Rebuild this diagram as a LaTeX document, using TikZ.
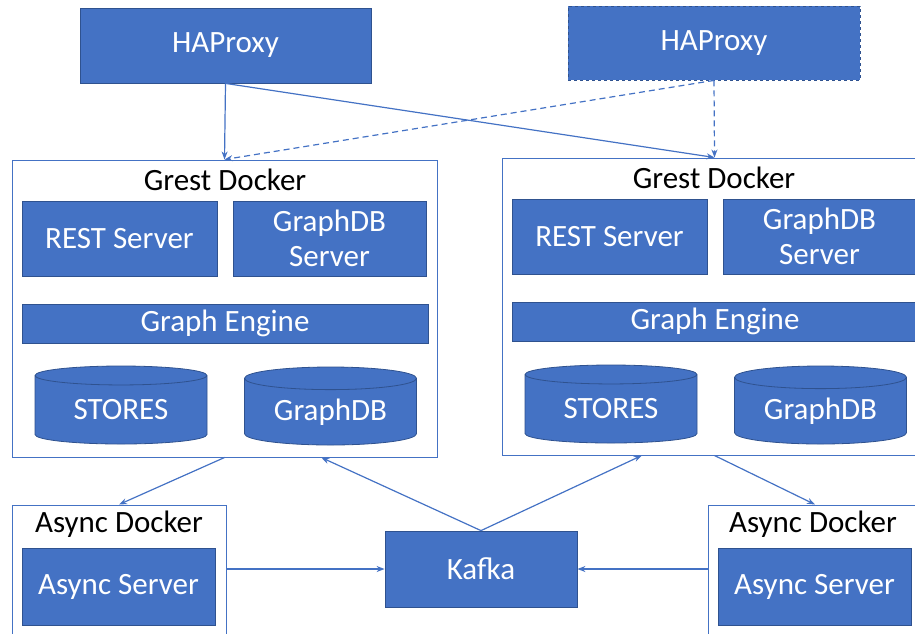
\documentclass[tikz,border=0pt]{standalone}
\usepackage{fontspec}
\setmainfont{Carlito}
\usepackage{tikz}
\usetikzlibrary{shapes, arrows.meta, positioning}

\definecolor{boxblue}{HTML}{4472C4}
\definecolor{boxedge}{HTML}{2F528F}
\newcommand{\diagfont}{\fontsize{31}{33}\selectfont}

\begin{document}
\begin{tikzpicture}[
        x=1pt, y=-1pt,
        blk/.style={rectangle, draw=boxedge, line width=0.8pt, fill=boxblue, text=white, font=\diagfont, inner sep=0pt, align=center},
        docker/.style={rectangle, draw=boxblue, line width=1pt, fill=white, inner sep=0pt},
        title/.style={font=\diagfont, text=black, inner sep=0pt},
        db/.style={cylinder, shape border rotate=90, aspect=0.2, anchor=shape center, draw=boxedge, line width=0.8pt, fill=boxblue, text=white, font=\diagfont, inner sep=0pt, minimum width=172pt, minimum height=78pt},
        link/.style={-{Stealth[length=8pt, width=6pt]}, draw=boxblue, line width=1.2pt},
        backup/.style={dash pattern=on 6pt off 4pt}
    ]
        \clip (0,0) rectangle (915,633);

        % Load balancers
        \node[blk, minimum width=291pt, minimum height=75pt] (hap1) at (225.5, 45.5) {HAProxy};
        \node[blk, dashed, minimum width=292pt, minimum height=74pt] (hap2) at (714, 43) {HAProxy};

        % Grest Docker (left)
        \node[docker, minimum width=425pt, minimum height=297pt] (grest1) at (224.5, 308.5) {};
        \node[title] (gtitle1) at (225, 180) {Grest Docker};
        \node[blk, minimum width=195pt, minimum height=75pt] (rest1) at (119.5, 238.5) {REST Server};
        \node[blk, minimum width=193pt, minimum height=75pt] (gdbs1) at (329.5, 238.5) {GraphDB\\[2pt]Server};
        \node[blk, minimum width=406pt, minimum height=39pt] (engine1) at (225, 323.5) {Graph Engine};
        \node[db] (stores1) at (121, 405) {STORES};
        \node[db] (gdb1) at (330.5, 406) {GraphDB};

        % Grest Docker (right)
        \node[docker, minimum width=425pt, minimum height=297pt] (grest2) at (714.5, 306.5) {};
        \node[title] (gtitle2) at (714, 178) {Grest Docker};
        \node[blk, minimum width=195pt, minimum height=75pt] (rest2) at (609.5, 236.5) {REST Server};
        \node[blk, minimum width=193pt, minimum height=75pt] (gdbs2) at (819.5, 236.5) {GraphDB\\[2pt]Server};
        \node[blk, minimum width=406pt, minimum height=39pt] (engine2) at (715, 321.5) {Graph Engine};
        \node[db] (stores2) at (611, 404) {STORES};
        \node[db] (gdb2) at (820.5, 405) {GraphDB};

        % Async Dockers and Kafka
        \node[docker, minimum width=214pt, minimum height=132pt] (async1) at (119, 571) {};
        \node[title] (atitle1) at (119, 524) {Async Docker};
        \node[blk, minimum width=193pt, minimum height=77pt] (aserver1) at (118.5, 586.5) {Async Server};
        \node[docker, minimum width=214pt, minimum height=132pt] (async2) at (815, 571) {};
        \node[title] (atitle2) at (813, 524) {Async Docker};
        \node[blk, minimum width=193pt, minimum height=77pt] (aserver2) at (814.5, 586.5) {Async Server};
        \node[blk, minimum width=192pt, minimum height=76pt] (kafka) at (481, 569) {Kafka};

        % Arrows
        \draw[link] (hap1.south) -- (grest1.north);
        \draw[link] (hap1.south) -- (grest2.north);
        \draw[link, backup] (hap2.south) -- (grest1.north);
        \draw[link, backup] (hap2.south) -- (grest2.north);

        \draw[link] (grest1.south) -- (async1.north);
        \draw[link] (kafka.north) -- (grest1.-57.3);
        \draw[link] (kafka.north) -- (grest2.-116.5);
        \draw[link] (grest2.south) -- (async2.north);

        \draw[link] (async1.east |- kafka.west) -- (kafka.west);
        \draw[link] (async2.west |- kafka.east) -- (kafka.east);
    \end{tikzpicture}
\end{document}
